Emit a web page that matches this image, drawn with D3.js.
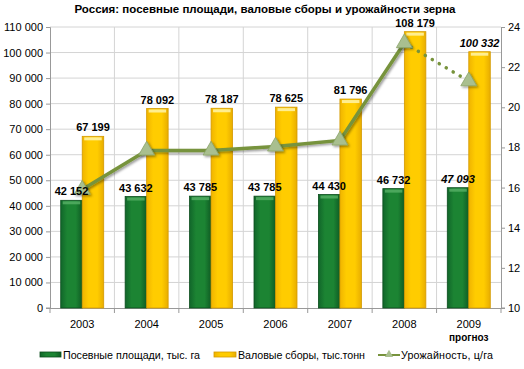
<!DOCTYPE html>
<html lang="ru">
<head>
<meta charset="UTF-8">
<title>Россия: зерно</title>
<script src="https://d3js.org/d3.v7.min.js"></script>
<style>
  body { margin: 0; background: #fff; font-family: "Liberation Sans", Arial, sans-serif; }
  .axis text { font-size: 11px; fill: #000; }
  .lbl { font-size: 11px; font-weight: bold; fill: #000; }
</style>
</head>
<body>
<svg width="524" height="369"></svg>
<script>
const years = ["2003", "2004", "2005", "2006", "2007", "2008", "2009"];
const area = [42152, 43632, 43785, 43785, 44430, 46732, 47093];
const harvest = [67199, 78092, 78187, 78625, 81796, 108179, 100332];
const yieldRate = [15.9, 17.85, 17.85, 18.05, 18.35, 23.2, 21.3];
const leftTicks = d3.range(0, 110001, 10000);
const rightTicks = [10, 12, 14, 16, 18, 20, 22, 24];

const svg = d3.select("svg");
const m = {top: 27, right: 23, bottom: 61, left: 50};
const W = 524 - m.left - m.right, H = 369 - m.top - m.bottom;
const fmt = v => d3.format(",")(v).replace(/,/g, " ");

const defs = svg.append("defs");
function grad(id, stops) {
  const g = defs.append("linearGradient").attr("id", id).attr("x1", 0).attr("x2", 1).attr("y1", 0).attr("y2", 0);
  stops.forEach(s => g.append("stop").attr("offset", s[0]).attr("stop-color", s[1]));
}
grad("gGreen", [[0, "#11662a"], [0.3, "#1c8433"], [0.7, "#1c8433"], [1, "#0f5c24"]]);
grad("gYellow", [[0, "#f0b400"], [0.3, "#ffcc00"], [0.7, "#ffcc00"], [1, "#e8ad00"]]);
const sh = defs.append("filter").attr("id", "shadow").attr("x", "-50%").attr("y", "-50%").attr("width", "200%").attr("height", "200%");
sh.append("feDropShadow").attr("dx", 1.5).attr("dy", 1.5).attr("stdDeviation", 1).attr("flood-opacity", 0.4);

svg.append("text").attr("x", 265).attr("y", 13).attr("text-anchor", "middle")
  .style("font-size", "11.5px").style("font-weight", "bold").text("Россия: посевные площади, валовые сборы и урожайности зерна");

const g = svg.append("g").attr("transform", `translate(${m.left},${m.top})`);

const x = d3.scaleBand().domain(years).range([0, W]);
const y = d3.scaleLinear().domain([0, 110000]).range([H, 0]);
const y2 = d3.scaleLinear().domain([10, 24]).range([H, 0]);

// grid
g.append("g").selectAll("line").data(leftTicks.slice(1)).join("line")
  .attr("x1", 0).attr("x2", W).attr("y1", d => y(d)).attr("y2", d => y(d)).attr("stroke", "#d4d4d4");
g.append("g").selectAll("line").data(years.slice(1)).join("line")
  .attr("x1", d => x(d)).attr("x2", d => x(d)).attr("y1", 0).attr("y2", H).attr("stroke", "#d4d4d4");

// axes
const ax = g.append("g").attr("class", "axis").call(d3.axisLeft(y).tickValues(leftTicks).tickFormat(fmt).tickSize(4).tickPadding(3));
const ax2 = g.append("g").attr("class", "axis").attr("transform", `translate(${W},0)`)
  .call(d3.axisRight(y2).tickValues(rightTicks).tickSize(4).tickPadding(3));
const axb = g.append("g").attr("class", "axis").attr("transform", `translate(0,${H})`)
  .call(d3.axisBottom(x).tickSize(0).tickPadding(12));
g.append("g").attr("transform", `translate(0,${H})`).selectAll("line").data(years.concat(["end"])).join("line")
  .attr("x1", (d, i) => i * x.step()).attr("x2", (d, i) => i * x.step()).attr("y1", 0).attr("y2", 5).attr("stroke", "#999");
[ax, ax2, axb].forEach(a => a.selectAll("path, line").attr("stroke", "#999"));
ax.select(".domain").attr("d", `M-4,0.5H0.5V${H}H-4`);
ax2.select(".domain").attr("d", `M4,0.5H0.5V${H}H4`);
axb.select(".domain").attr("d", `M0,0.5H${W}`);
axb.selectAll(".tick").filter(d => d === "2009").append("text")
  .attr("y", 33).attr("fill", "#000").style("font-size", "10px").style("font-weight", "bold").text("прогноз");

// bars
const bw = 21.5;
const off = (x.step() - 2 * bw) / 2;
g.selectAll(".bg").data(years).join("rect").attr("class", "bg")
  .attr("x", d => x(d) + off).attr("width", bw)
  .attr("y", (d, i) => y(area[i])).attr("height", (d, i) => H - y(area[i]))
  .attr("fill", "url(#gGreen)").attr("stroke", "#0b4d1c").attr("stroke-width", 0.8);
g.selectAll(".by").data(years).join("rect").attr("class", "by")
  .attr("x", d => x(d) + off + bw).attr("width", bw)
  .attr("y", (d, i) => y(harvest[i])).attr("height", (d, i) => H - y(harvest[i]))
  .attr("fill", "url(#gYellow)").attr("stroke", "#d49a00").attr("stroke-width", 0.8);
// top highlights
g.selectAll(".hg").data(years).join("rect").attr("class", "hg")
  .attr("x", d => x(d) + off + 2).attr("width", bw - 4)
  .attr("y", (d, i) => y(area[i]) + 1).attr("height", 3).attr("fill", "#58b066").attr("opacity", 0.8);
g.selectAll(".hy").data(years).join("rect").attr("class", "hy")
  .attr("x", d => x(d) + off + bw + 2).attr("width", bw - 4)
  .attr("y", (d, i) => y(harvest[i]) + 1).attr("height", 3).attr("fill", "#fff2a0").attr("opacity", 0.9);

// line
const pts = years.map((d, i) => [x(d) + x.step() / 2, y2(yieldRate[i])]);
g.append("path").attr("d", d3.line()(pts.slice(0, 6))).attr("fill", "none")
  .attr("stroke", "#77933c").attr("stroke-width", 3.5).attr("filter", "url(#shadow)");
g.append("path").attr("d", d3.line()(pts.slice(5))).attr("fill", "none")
  .attr("stroke", "#77933c").attr("stroke-width", 3.5).attr("stroke-linecap", "round")
  .attr("stroke-dasharray", "0.1 8");
g.selectAll(".mk").data(pts).join("path").attr("class", "mk")
  .attr("transform", d => `translate(${d[0]},${d[1]})`)
  .attr("d", d3.symbol(d3.symbolTriangle, 110)())
  .attr("fill", "#a9bf8f").attr("stroke", "#8aa36a").attr("stroke-width", 0.8).attr("filter", "url(#shadow)");

// labels
g.selectAll(".lg").data(years).join("text").attr("class", "lbl")
  .attr("x", d => x(d) + off + bw / 2).attr("y", (d, i) => y(area[i]) - 5)
  .attr("text-anchor", "middle").style("font-style", d => d === "2009" ? "italic" : null)
  .text((d, i) => fmt(area[i]));
g.selectAll(".ly").data(years).join("text").attr("class", "lbl")
  .attr("x", d => x(d) + off + bw * 1.5).attr("y", (d, i) => y(harvest[i]) - 5)
  .attr("text-anchor", "middle").style("font-style", d => d === "2009" ? "italic" : null)
  .text((d, i) => fmt(harvest[i]));

// legend
const leg = svg.append("g").attr("transform", "translate(0,355)").style("font-size", "10.7px");
leg.append("rect").attr("x", 40).attr("y", -3).attr("width", 21).attr("height", 5)
  .attr("fill", "url(#gGreen)").attr("stroke", "#0b4d1c").attr("stroke-width", 0.8);
leg.append("text").attr("x", 63).attr("y", 4).attr("textLength", 137).text("Посевные площади, тыс. га");
leg.append("rect").attr("x", 214).attr("y", -3).attr("width", 22).attr("height", 5)
  .attr("fill", "url(#gYellow)").attr("stroke", "#d49a00").attr("stroke-width", 0.8);
leg.append("text").attr("x", 238).attr("y", 4).attr("textLength", 127).text("Валовые сборы, тыс.тонн");
leg.append("line").attr("x1", 378).attr("x2", 400).attr("y1", 0).attr("y2", 0).attr("stroke", "#77933c").attr("stroke-width", 2);
leg.append("path").attr("transform", "translate(389,-0.5)").attr("d", d3.symbol(d3.symbolTriangle, 30)()).attr("fill", "#a9bf8f");
leg.append("text").attr("x", 401).attr("y", 4).attr("textLength", 92).text("Урожайность, ц/га");
</script>
</body>
</html>
